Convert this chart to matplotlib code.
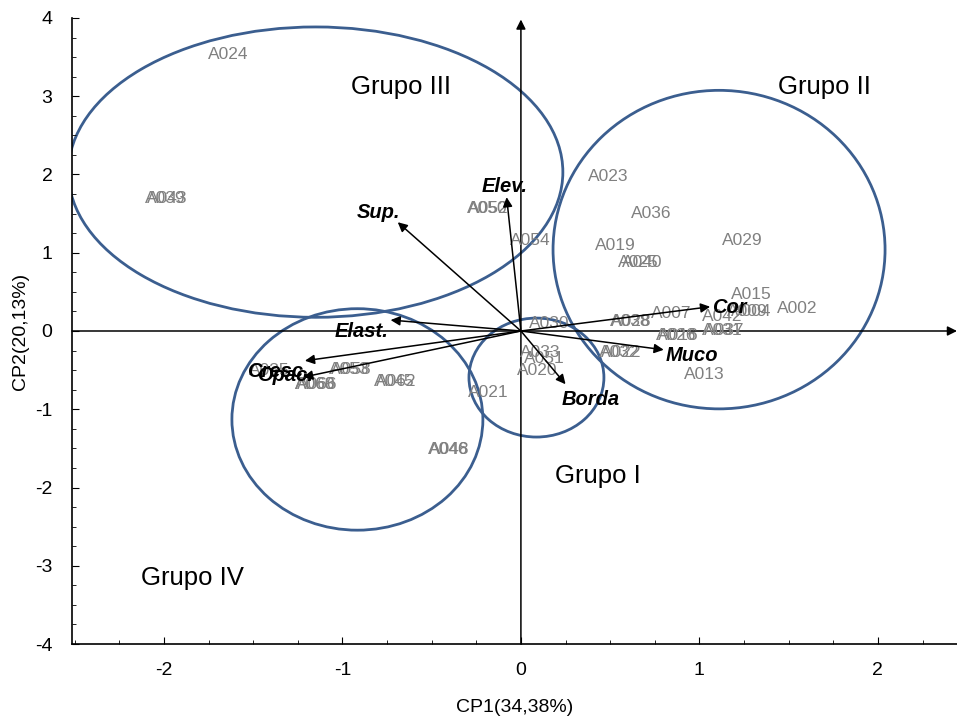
import matplotlib
matplotlib.use("Agg")
import matplotlib.pyplot as plt
from matplotlib.patches import Ellipse
from matplotlib.ticker import MultipleLocator

plt.rcParams['font.family'] = ['Liberation Sans', 'DejaVu Sans']
plt.rcParams['axes.unicode_minus'] = False

# Observations (labels and scores)
obs_labels = ["A024", "A039", "A043", "A050", "A052", "A054", "A023", "A036", "A019", "A029",
              "A025", "A040", "A015", "A002", "A007", "A042", "A009", "A004", "A038", "A028",
              "A026", "A016", "A031", "A037", "A032", "A022", "A013", "A030", "A033", "A051",
              "A020", "A021", "A035", "A053", "A058", "A060", "A066", "A068", "A045", "A062",
              "A046", "A048"]
obs_x = [-1.64, -1.99, -1.98, -0.19, -0.18, 0.05, 0.49, 0.73, 0.53, 1.24,
         0.66, 0.68, 1.29, 1.55, 0.84, 1.13, 1.27, 1.29, 0.61, 0.62,
         0.87, 0.88, 1.13, 1.14, 0.55, 0.56, 1.03, 0.16, 0.11, 0.13,
         0.09, -0.18, -1.41, -0.96, -0.95, -1.15, -1.14, -1.15, -0.71, -0.70,
         -0.41, -0.40]
obs_y = [3.53, 1.69, 1.69, 1.57, 1.57, 1.15, 1.98, 1.50, 1.09, 1.16,
         0.88, 0.88, 0.46, 0.29, 0.22, 0.19, 0.25, 0.25, 0.12, 0.12,
         -0.06, -0.06, 0.00, 0.00, -0.27, -0.27, -0.55, 0.09, -0.27, -0.35,
         -0.51, -0.78, -0.51, -0.49, -0.49, -0.68, -0.68, -0.68, -0.65, -0.65,
         -1.52, -1.52]

# Variable vectors
var_names = ["Sup.", "Elev.", "Elast.", "Cor", "Muco", "Borda", "Cresc.", "Opac."]
var_x = [-0.69, -0.08, -0.73, 1.06, 0.80, 0.25, -1.21, -1.22]
var_y = [1.39, 1.71, 0.14, 0.31, -0.24, -0.68, -0.38, -0.59]
var_lab_x = [-0.80, -0.09, -0.89, 1.17, 0.96, 0.39, -1.36, -1.32]
var_lab_y = [1.52, 1.84, -0.01, 0.30, -0.31, -0.88, -0.52, -0.57]

# Groups (ellipses)
grp_names = ["Grupo I", "Grupo II", "Grupo III", "Grupo IV"]
grp_cx = [0.087, 1.11, -1.15, -0.916]
grp_cy = [-0.595, 1.04, 2.03, -1.13]
grp_w = [0.756, 1.86, 2.77, 1.406]
grp_h = [1.52, 4.07, 3.71, 2.83]
grp_lab_x = [0.43, 1.70, -0.67, -1.84]
grp_lab_y = [-1.85, 3.12, 3.12, -3.16]

fig = plt.figure(figsize=(9.57, 7.18), dpi=100)
ax = fig.add_axes([0.0752, 0.103, 0.9248, 0.872])
ax.set_xlim(-2.515, 2.443)
ax.set_ylim(-4, 4)

for s in ["top", "right"]:
    ax.spines[s].set_visible(False)
for s in ["left", "bottom"]:
    ax.spines[s].set_linewidth(1.2)

ax.xaxis.set_major_locator(MultipleLocator(1))
ax.xaxis.set_minor_locator(MultipleLocator(0.25))
ax.yaxis.set_major_locator(MultipleLocator(1))
ax.yaxis.set_minor_locator(MultipleLocator(0.25))
ax.tick_params(which="both", direction="in", labelsize=14)
ax.tick_params(which="major", length=5)
ax.tick_params(which="minor", length=3)
ax.tick_params(axis="x", pad=13)
ax.tick_params(axis="y", pad=14)

ax.set_xlabel("CP1(34,38%)", fontsize=14, labelpad=14)
ax.set_ylabel("CP2(20,13%)", fontsize=14, labelpad=4)

# Central axes with arrows
ax.annotate("", xy=(ax.get_xlim()[1], 0), xytext=(ax.get_xlim()[0], 0),
            arrowprops=dict(arrowstyle="-|>", color="black", lw=1.1, mutation_scale=14,
                            shrinkA=0, shrinkB=0), annotation_clip=False)
ax.annotate("", xy=(0, 3.98), xytext=(0, -4),
            arrowprops=dict(arrowstyle="-|>", color="black", lw=1.1, mutation_scale=14,
                            shrinkA=0, shrinkB=0), annotation_clip=False)

# Ellipses
for cx, cy, w, h in zip(grp_cx, grp_cy, grp_w, grp_h):
    ax.add_patch(Ellipse((cx, cy), w, h, fill=False, edgecolor="#3b5e8f", lw=2))

# Observation labels
for lab, x, y in zip(obs_labels, obs_x, obs_y):
    ax.text(x, y, lab, color="#808080", fontsize=12.5, ha="center", va="center")

# Vectors
for name, x, y, lx, ly in zip(var_names, var_x, var_y, var_lab_x, var_lab_y):
    ax.annotate("", xy=(x, y), xytext=(0, 0),
                arrowprops=dict(arrowstyle="-|>", color="black", lw=1.1, mutation_scale=14,
                                shrinkA=0, shrinkB=0))
    ax.text(lx, ly, name, fontsize=14.5, fontweight="bold", fontstyle="italic",
            ha="center", va="center", color="black")

# Group labels
for name, x, y in zip(grp_names, grp_lab_x, grp_lab_y):
    ax.text(x, y, name, fontsize=18.5, ha="center", va="center", color="black")

fig.savefig("out.png", dpi=100)
